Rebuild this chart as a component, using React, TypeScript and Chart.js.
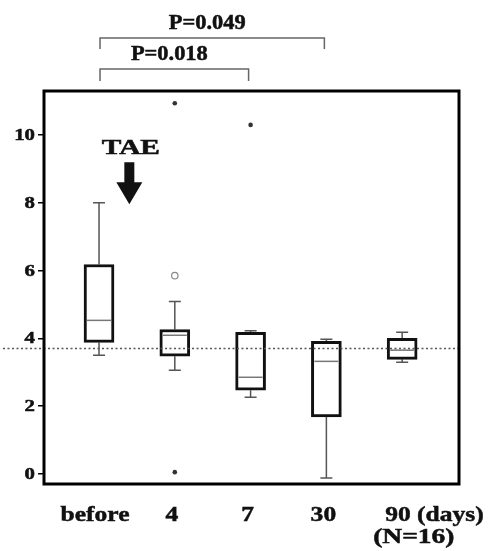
import React, { useEffect, useRef } from "react";
import { Chart, registerables } from "chart.js";

Chart.register(...registerables);

// ---- data ----
const categories = ["before", "4", "7", "30", "90"];
const catPositions = [0, 1, 2, 3, 4];
const whiskerLow = [3.5, 3.06, 2.26, -0.12, 3.29];
const quartile1 = [3.88, 3.47, 2.47, 1.68, 3.38];
const medians = [4.53, 4.09, 2.85, 3.32, 3.65];
const quartile3 = [6.18, 4.26, 4.18, 3.91, 4.0];
const whiskerHigh = [8.0, 5.09, 4.22, 3.97, 4.18];
const outlierDots = [
  { x: 1, y: 10.94 },
  { x: 1, y: 0.05 },
  { x: 2, y: 10.3 },
];
const outlierCircles = [{ x: 1, y: 5.85 }];
const yTickValues = [0, 2, 4, 6, 8, 10];
const referenceLevel = 3.7;
const comparisons = [
  { from: 0, to: 3, label: "P=0.049", level: 0 },
  { from: 0, to: 2, label: "P=0.018", level: 1 },
];

const SERIF = '"Liberation Serif", "DejaVu Serif", serif';

function stretchText(
  ctx: CanvasRenderingContext2D,
  text: string,
  x: number,
  y: number,
  size: number,
  sx: number,
  align: CanvasTextAlign,
  baseline: CanvasTextBaseline = "alphabetic"
) {
  ctx.save();
  ctx.font = `bold ${size}px ${SERIF}`;
  ctx.fillStyle = "#111";
  ctx.strokeStyle = "#111";
  ctx.lineWidth = 0.5;
  ctx.textAlign = align;
  ctx.textBaseline = baseline;
  ctx.translate(x, y);
  ctx.scale(sx, 1);
  ctx.fillText(text, 0, 0);
  ctx.strokeText(text, 0, 0);
  ctx.restore();
}

const boxPlugin = {
  id: "boxExtras",
  beforeDatasetsDraw(chart: any) {
    const { ctx } = chart;
    const xs = chart.scales.x;
    const ys = chart.scales.y;
    ctx.save();
    ctx.strokeStyle = "#555";
    ctx.lineWidth = 1.5;
    catPositions.forEach((p, i) => {
      const cx = xs.getPixelForValue(p);
      const segs = [
        [quartile3[i], whiskerHigh[i]],
        [quartile1[i], whiskerLow[i]],
      ];
      segs.forEach(([a, b]) => {
        const ya = ys.getPixelForValue(a);
        const yb = ys.getPixelForValue(b);
        ctx.beginPath();
        ctx.moveTo(cx, ya);
        ctx.lineTo(cx, yb);
        ctx.moveTo(cx - 6, yb);
        ctx.lineTo(cx + 6, yb);
        ctx.stroke();
      });
    });
    ctx.restore();
  },
  afterDatasetsDraw(chart: any) {
    const { ctx, chartArea } = chart;
    const xs = chart.scales.x;
    const ys = chart.scales.y;
    ctx.save();
    // medians
    ctx.strokeStyle = "#777";
    ctx.lineWidth = 1.5;
    catPositions.forEach((p, i) => {
      const cx = xs.getPixelForValue(p);
      const y = ys.getPixelForValue(medians[i]);
      ctx.beginPath();
      ctx.moveTo(cx - 12, y);
      ctx.lineTo(cx + 12, y);
      ctx.stroke();
    });
    // dotted reference line
    const ry = ys.getPixelForValue(referenceLevel);
    ctx.strokeStyle = "#555";
    ctx.lineWidth = 1.5;
    ctx.setLineDash([2, 2.5]);
    ctx.beginPath();
    ctx.moveTo(3, ry);
    ctx.lineTo(chartArea.right, ry);
    ctx.stroke();
    ctx.setLineDash([]);
    ctx.restore();
  },
  afterDraw(chart: any) {
    const { ctx, chartArea } = chart;
    const xs = chart.scales.x;
    const ys = chart.scales.y;
    ctx.save();
    // frame
    ctx.strokeStyle = "#000";
    ctx.lineWidth = 3;
    ctx.strokeRect(
      chartArea.left,
      chartArea.top,
      chartArea.right - chartArea.left,
      chartArea.bottom - chartArea.top
    );
    // y tick labels
    yTickValues.forEach((v) => {
      stretchText(ctx, String(v), chartArea.left - 9, ys.getPixelForValue(v) + 1, 16, 1.3, "right", "middle");
    });
    // x labels
    categories.forEach((c, i) => {
      const px = xs.getPixelForValue(catPositions[i]);
      if (i === categories.length - 1) {
        stretchText(ctx, c + " (days)", px - 17, 521, 22, 1.16, "left");
        stretchText(ctx, "(N=16)", px - 29, 543, 22, 1.25, "left");
      } else {
        stretchText(ctx, c, px - (i === 0 ? 4 : 3), 521, 22, 1.16, "center");
      }
    });
    // comparison brackets
    comparisons.forEach((cmp) => {
      const x1 = xs.getPixelForValue(cmp.from) + 1;
      const x2 = xs.getPixelForValue(cmp.to) - 2;
      const y = cmp.level === 0 ? chartArea.top - 53 : chartArea.top - 22;
      const legs = cmp.level === 0 ? 11 : 12;
      ctx.strokeStyle = "#666";
      ctx.lineWidth = 1.5;
      ctx.beginPath();
      ctx.moveTo(x1, y + legs);
      ctx.lineTo(x1, y);
      ctx.lineTo(x2, y);
      ctx.lineTo(x2, y + legs);
      ctx.stroke();
      stretchText(ctx, cmp.label, (x1 + x2) / 2 - 5, y - 9, 20, 1.12, "center");
    });
    // TAE annotation with arrow
    const ax = xs.getPixelForValue(0.4);
    stretchText(ctx, "TAE", xs.getPixelForValue(0.42), ys.getPixelForValue(9.44), 21, 1.4, "center");
    const yTop = ys.getPixelForValue(9.2);
    const yNeck = ys.getPixelForValue(8.61);
    const yTip = ys.getPixelForValue(7.96);
    ctx.fillStyle = "#111";
    ctx.beginPath();
    ctx.moveTo(ax - 5, yTop);
    ctx.lineTo(ax + 5, yTop);
    ctx.lineTo(ax + 5, yNeck);
    ctx.lineTo(ax + 13, yNeck);
    ctx.lineTo(ax, yTip);
    ctx.lineTo(ax - 13, yNeck);
    ctx.lineTo(ax - 5, yNeck);
    ctx.closePath();
    ctx.fill();
    ctx.restore();
  },
};

export default function App() {
  const ref = useRef<HTMLCanvasElement | null>(null);
  useEffect(() => {
    document.body.style.margin = "0";
    const canvas = ref.current;
    if (!canvas) return;
    const chart = new Chart(canvas, {
      type: "bar",
      data: {
        datasets: [
          {
            type: "bar",
            data: catPositions.map((p, i) => ({ x: p, y: [quartile1[i], quartile3[i]] })) as any,
            backgroundColor: "#fff",
            borderColor: "#111",
            borderWidth: 3,
            borderSkipped: false,
            barThickness: 30,
          } as any,
          {
            type: "scatter",
            data: outlierDots as any,
            pointRadius: 2.3,
            pointBackgroundColor: "#333",
            pointBorderColor: "#333",
            pointBorderWidth: 0,
          } as any,
          {
            type: "scatter",
            data: outlierCircles as any,
            pointRadius: 3.2,
            pointBackgroundColor: "#fff",
            pointBorderColor: "#888",
            pointBorderWidth: 1.2,
          } as any,
        ],
      },
      options: {
        animation: false,
        responsive: false,
        devicePixelRatio: 1,
        layout: { padding: { top: 91, right: 30, left: 0, bottom: 0 } },
        plugins: { legend: { display: false }, tooltip: { enabled: false } },
        scales: {
          x: {
            type: "linear",
            offset: false,
            min: -0.726,
            max: 4.75,
            grid: { display: false },
            border: { display: false },
            ticks: { display: false },
            afterFit: (s: any) => {
              s.height = 67;
            },
          },
          y: {
            type: "linear",
            min: -0.3,
            max: 11.3,
            grid: {
              display: true,
              drawOnChartArea: false,
              drawTicks: true,
              tickLength: 6,
              color: "#000",
              lineWidth: 1.5,
            },
            border: { display: false },
            ticks: { color: "rgba(0,0,0,0)", font: { size: 16 } },
            afterBuildTicks: (s: any) => {
              s.ticks = yTickValues.map((v) => ({ value: v }));
            },
            afterFit: (s: any) => {
              s.width = 44;
            },
          },
        },
      } as any,
      plugins: [boxPlugin],
    });
    return () => chart.destroy();
  }, []);
  return (
    <div style={{ width: 489, height: 551, background: "#fff" }}>
      <canvas ref={ref} width={489} height={551} style={{ display: "block" }} />
    </div>
  );
}
